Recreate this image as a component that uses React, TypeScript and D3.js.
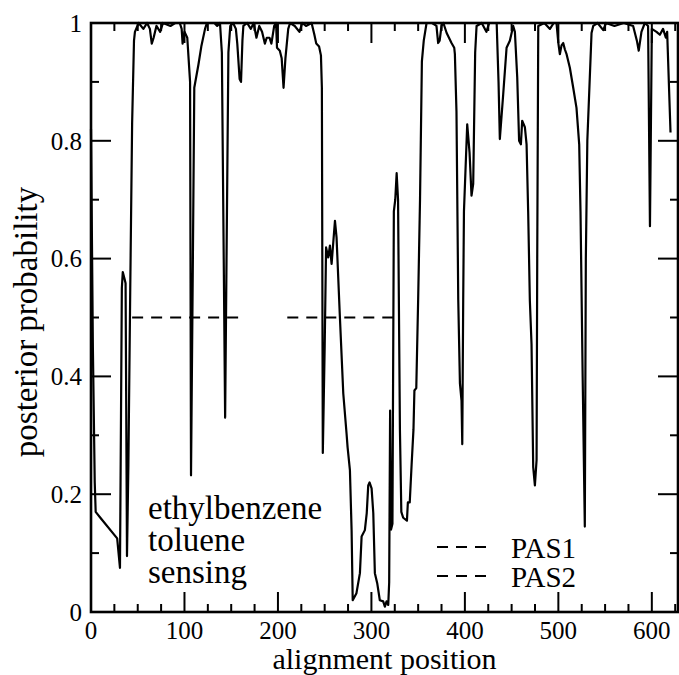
import React from "react";
import * as d3 from "d3";

const posX: number[] = [
  0, 2, 4, 5, 10, 28, 31, 33, 34, 36, 37, 38.5, 40, 42, 44, 46, 47, 51, 56, 60, 63, 65, 67, 70, 74, 77, 85, 90, 95, 97, 98, 100, 103,
  106, 107, 109, 110.5, 115, 118, 122, 124, 132, 135, 138, 140, 142, 143.5, 145, 147, 149, 152, 155, 156.5, 159, 160.5, 162, 163,
  167, 171, 174, 177, 180, 183, 186, 188, 191, 193, 196, 198, 199, 202, 204, 206, 208, 211, 213, 218, 223, 226, 230, 236, 239, 241,
  244, 246, 247, 248, 250, 251.5, 253.8, 255.6, 257.4, 261, 262.7, 266.3, 269.9, 273.4, 274.5, 277, 278.8, 280, 284, 287.7, 289.5,
  293, 295, 296.6, 298, 300.2, 302, 303.7, 306.2, 309, 312.6, 314.4, 316.2, 318, 319, 320, 321, 322.5, 324, 325.5, 327, 328.5,
  330.5, 332, 334, 338, 339, 341, 343, 345, 346, 348, 350, 352, 354, 356, 359, 365, 369.6, 371.4, 373, 375, 377, 380.5, 385.7,
  388.6, 389.3, 391, 392.9, 394.7, 396.4, 397.2, 398.2, 399, 402.5, 405, 407.1, 408.9, 411, 412.5, 418, 423, 426, 434, 436, 437.4,
  441, 444.6, 448.1, 451.7, 453.5, 456, 458, 459.9, 461.3, 464.2, 466, 467.7, 469.5, 471.3, 473.1, 474.9, 476.7, 477.4, 478.5, 485,
  491, 495, 498, 500, 501.6, 503.4, 505.2, 507, 508.8, 512.3, 515.9, 519.4, 522.3, 523.7, 526, 528.3, 529.4, 531, 535.5, 537.3,
  542, 548, 551, 560, 570, 580, 584, 586, 588.9, 592.5, 596, 598, 600, 605, 608.6, 612, 615, 616.4, 620,
];

const posterior: number[] = [
  0.82, 0.45, 0.22, 0.17, 0.16, 0.125, 0.075, 0.55, 0.577, 0.565, 0.558, 0.095, 0.25, 0.55, 0.83, 0.97, 0.985, 1.0, 0.99, 1.0, 0.99,
  0.965, 0.975, 0.995, 0.985, 1.0, 0.995, 1.0, 1.0, 0.99, 0.965, 0.985, 0.975,
  0.9, 0.232, 0.6, 0.89, 0.93, 0.96, 0.99, 1.0, 1.0, 0.995, 1.0, 0.95, 0.6, 0.33, 0.6, 0.95, 0.995, 1.0, 0.99, 0.965, 0.905, 0.9,
  0.97, 0.995, 1.0, 0.99, 1.0, 0.975, 0.995, 0.985, 0.965, 0.975, 0.975, 0.965, 0.995, 1.0, 0.958, 0.953, 0.94, 0.89, 0.94, 0.99,
  1.0, 0.995, 0.985, 1.0, 0.995, 1.0, 0.98, 0.965,
  0.96, 0.945, 0.89, 0.27, 0.45, 0.619, 0.602, 0.622, 0.591, 0.664, 0.636, 0.5, 0.371, 0.303, 0.28, 0.241, 0.139, 0.02, 0.032,
  0.066, 0.128,
  0.139, 0.168, 0.215, 0.22, 0.21, 0.168, 0.066, 0.049, 0.02, 0.018, 0.009, 0.018, 0.012, 0.05, 0.342, 0.14, 0.15, 0.68, 0.7,
  0.745, 0.7,
  0.31, 0.17, 0.16, 0.155, 0.186, 0.186, 0.25, 0.31, 0.376, 0.38, 0.53, 0.7, 0.935, 0.97, 1.0, 1.0, 0.995, 0.966, 0.97, 0.995, 1.0,
  0.983, 0.966,
  0.958, 0.947, 0.85, 0.53, 0.388, 0.359, 0.285, 0.53, 0.68, 0.828, 0.78, 0.707, 0.727, 0.95, 0.995, 1.0, 0.985, 1.0, 1.0, 0.9,
  0.803,
  0.879, 0.958, 0.97, 0.995, 0.985, 0.908, 0.8, 0.794, 0.834, 0.823, 0.794, 0.68, 0.529, 0.455, 0.246, 0.215, 0.258, 0.6, 0.995,
  1.0,
  0.99, 1.0, 1.0, 0.966, 0.947, 0.962, 0.966, 0.955, 0.947, 0.924, 0.89, 0.856, 0.794, 0.68, 0.4, 0.145, 0.6, 0.8, 0.983, 0.995,
  1.0, 0.988, 1.0, 0.995, 1.0, 0.995, 0.97, 0.953, 0.985, 1.0, 0.995, 0.655, 0.99, 0.985, 0.98, 0.99, 0.975, 0.985, 0.814,
];

const pas1X: number[] = [44, 163];
const pas2X: number[] = [210, 330];
const pasLevel = 0.5;

const xMajorTicks: number[] = [0, 100, 200, 300, 400, 500, 600];
const xMinorTicks: number[] = [25, 50, 75, 125, 150, 175, 225, 250, 275, 325, 350, 375, 425, 450, 475, 525, 550, 575, 625];
const yMajorTicks: number[] = [0, 0.2, 0.4, 0.6, 0.8, 1];
const yMajorLabels: string[] = ["0", "0.2", "0.4", "0.6", "0.8", "1"];
const yMinorTicks: number[] = [0.1, 0.3, 0.5, 0.7, 0.9];

const annotationLines: string[] = ["ethylbenzene", "toluene", "sensing"];
const legendLabels: string[] = ["PAS1", "PAS2"];

const W = 679;
const H = 675;
const L = 91;
const R = 678;
const T = 23;
const B = 612;
const FONT = "Liberation Serif";

export default function App() {
  const x = d3.scaleLinear().domain([0, 628]).range([L, R]);
  const y = d3.scaleLinear().domain([0, 1]).range([B, T]);
  const pts: [number, number][] = posX.map((v, i) => [v, posterior[i]]);
  const line = d3
    .line<[number, number]>()
    .x((d) => x(d[0]))
    .y((d) => y(d[1]));
  const MAJ = 20;
  const MIN = 8;
  const dash = "11,8";

  return (
    <svg width={W} height={H} style={{ position: "absolute", left: 0, top: 0, background: "#fff" }}>
      <rect x={0} y={0} width={W} height={H} fill="#fff" />
      <line x1={x(pas1X[0])} x2={x(pas1X[1])} y1={y(pasLevel)} y2={y(pasLevel)} stroke="#000" strokeWidth={2} strokeDasharray={dash} />
      <line x1={x(pas2X[0])} x2={x(pas2X[1])} y1={y(pasLevel)} y2={y(pasLevel)} stroke="#000" strokeWidth={2} strokeDasharray={dash} />
      <path d={line(pts) || ""} fill="none" stroke="#000" strokeWidth={2.2} strokeLinejoin="round" />
      {xMajorTicks.map((t) => (
        <g key={"xM" + t}>
          <line x1={x(t)} x2={x(t)} y1={B} y2={B - MAJ} stroke="#000" strokeWidth={2} />
          <line x1={x(t)} x2={x(t)} y1={T} y2={T + MAJ} stroke="#000" strokeWidth={2} />
          <text x={x(t)} y={639} fontFamily={FONT} fontSize={25} textAnchor="middle">
            {t}
          </text>
        </g>
      ))}
      {xMinorTicks.map((t) => (
        <g key={"xm" + t}>
          <line x1={x(t)} x2={x(t)} y1={B} y2={B - MIN} stroke="#000" strokeWidth={2} />
          <line x1={x(t)} x2={x(t)} y1={T} y2={T + MIN} stroke="#000" strokeWidth={2} />
        </g>
      ))}
      {yMajorTicks.map((t, i) => (
        <g key={"yM" + t}>
          <line x1={L} x2={L + MAJ} y1={y(t)} y2={y(t)} stroke="#000" strokeWidth={2} />
          <line x1={R} x2={R - MAJ} y1={y(t)} y2={y(t)} stroke="#000" strokeWidth={2} />
          <text x={82} y={y(t)} dy="0.35em" fontFamily={FONT} fontSize={25} textAnchor="end">
            {yMajorLabels[i]}
          </text>
        </g>
      ))}
      {yMinorTicks.map((t) => (
        <g key={"ym" + t}>
          <line x1={L} x2={L + MIN} y1={y(t)} y2={y(t)} stroke="#000" strokeWidth={2} />
          <line x1={R} x2={R - MIN} y1={y(t)} y2={y(t)} stroke="#000" strokeWidth={2} />
        </g>
      ))}
      <rect x={L} y={T} width={R - L} height={B - T} fill="none" stroke="#000" strokeWidth={2.6} />
      <text x={(L + R) / 2} y={669} fontFamily={FONT} fontSize={30} textAnchor="middle">
        alignment position
      </text>
      <text transform={`translate(37,322) rotate(-90)`} fontFamily={FONT} fontSize={33} textAnchor="middle">
        posterior probability
      </text>
      {annotationLines.map((s, i) => (
        <text key={s} x={148} y={519 + i * 32} fontFamily={FONT} fontSize={33}>
          {s}
        </text>
      ))}
      {legendLabels.map((s, i) => (
        <g key={s}>
          <line x1={437} x2={490} y1={547 + i * 29} y2={547 + i * 29} stroke="#000" strokeWidth={2} strokeDasharray={dash} />
          <text x={511} y={558 + i * 29} fontFamily={FONT} fontSize={29}>
            {s}
          </text>
        </g>
      ))}
    </svg>
  );
}
